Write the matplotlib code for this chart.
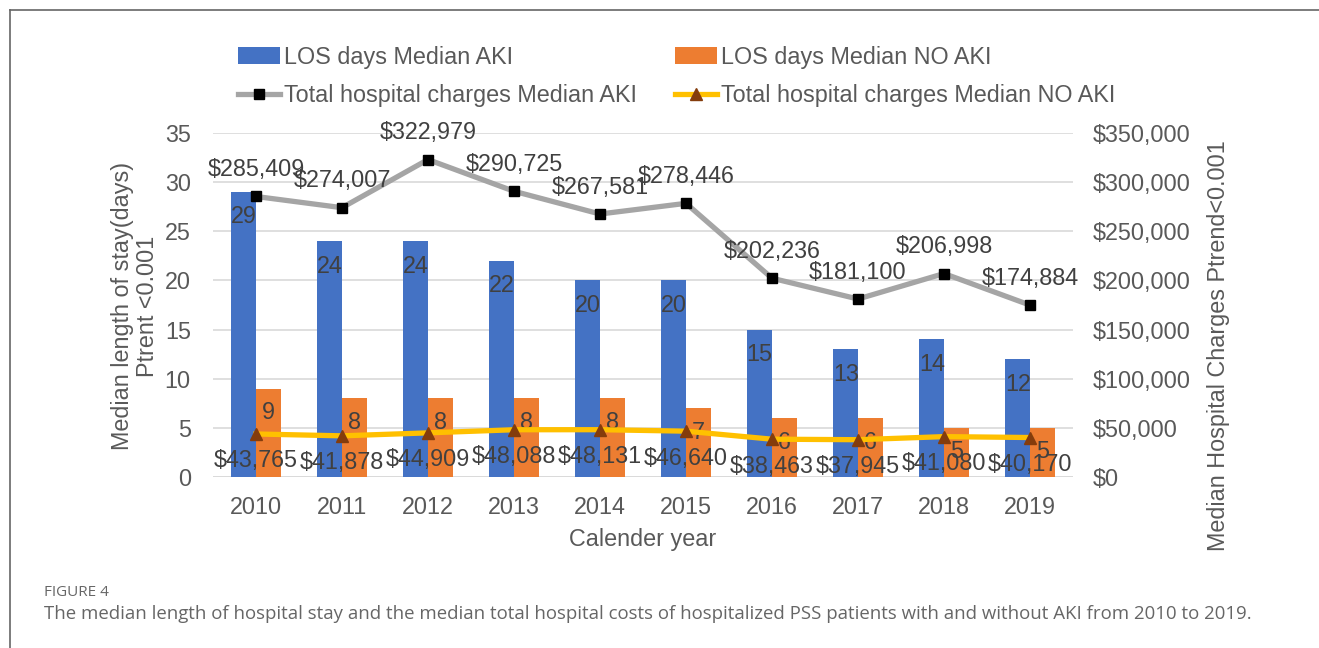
import numpy as np
import matplotlib.pyplot as plt
from matplotlib.lines import Line2D

plt.rcParams['font.family'] = ['Liberation Sans', 'DejaVu Sans']

years = ['2010', '2011', '2012', '2013', '2014', '2015', '2016', '2017', '2018', '2019']
los_aki = [29, 24, 24, 22, 20, 20, 15, 13, 14, 12]
los_no_aki = [9, 8, 8, 8, 8, 7, 6, 6, 5, 5]
charges_aki = [285409, 274007, 322979, 290725, 267581, 278446, 202236, 181100, 206998, 174884]
charges_no_aki = [43765, 41878, 44909, 48088, 48131, 46640, 38463, 37945, 41080, 40170]

TXT = '#595959'
FS = 16.8


def main():
    W, H = 1319, 648
    fig = plt.figure(figsize=(W / 100, H / 100), dpi=100)
    ax = fig.add_axes([213 / W, 1 - 477 / H, 860 / W, 344 / H])
    ax2 = ax.twinx()

    x = np.arange(len(years))
    bw = 0.285
    b1 = ax.bar(x - bw / 2, los_aki, bw, color='#4472C4', label='LOS days Median AKI', zorder=2)
    b2 = ax.bar(x + bw / 2, los_no_aki, bw, color='#ED7D31', label='LOS days Median NO AKI', zorder=2)

    l1, = ax2.plot(x, charges_aki, color='#A5A5A5', lw=3.8, marker='s', ms=7,
                   mfc='black', mec='black', label='Total hospital charges Median AKI', zorder=3)
    l2, = ax2.plot(x, charges_no_aki, color='#FFC000', lw=3.8, marker='^', ms=8,
                   mfc='#843C0C', mec='#843C0C', label='Total hospital charges Median NO AKI', zorder=3)

    ax.set_xlim(-0.5, len(years) - 0.5)
    ax.set_ylim(0, 35)
    ax2.set_ylim(0, 350000)
    ax.set_yticks(range(0, 36, 5))
    ax2.set_yticks(range(0, 350001, 50000))
    ax2.set_yticklabels(['$' + format(v, ',') for v in range(0, 350001, 50000)])
    ax.set_xticks(x)
    ax.set_xticklabels(years)

    for a in (ax, ax2):
        for s in a.spines.values():
            s.set_visible(False)
        a.tick_params(length=0, labelsize=FS, colors=TXT)
    ax.tick_params(axis='y', pad=16)
    ax.tick_params(axis='x', pad=14)
    ax2.tick_params(axis='y', pad=14.5)
    ax.grid(axis='y', color='#D9D9D9', lw=1.2, zorder=0)
    ax.set_axisbelow(True)
    ax.axhline(0, color='#D9D9D9', lw=1.2, zorder=1)

    # data labels
    for xi, v in zip(x, los_aki):
        ax.annotate(str(v), (xi - bw / 2, v), xytext=(0, -25), textcoords='offset pixels',
                    ha='center', va='center', fontsize=FS, color='#404040', zorder=5)
    for xi, v in zip(x, los_no_aki):
        ax.annotate(str(v), (xi + bw / 2, v), xytext=(0, -24), textcoords='offset pixels',
                    ha='center', va='center', fontsize=FS, color='#404040', zorder=5)
    for xi, v in zip(x, charges_aki):
        ax2.annotate('$' + format(v, ','), (xi, v), xytext=(0, 27), textcoords='offset pixels',
                     ha='center', va='center', fontsize=FS, color='#404040', zorder=5)
    for xi, v in zip(x, charges_no_aki):
        ax2.annotate('$' + format(v, ','), (xi, v), xytext=(0, -27), textcoords='offset pixels',
                     ha='center', va='center', fontsize=FS, color='#404040', zorder=5)

    ax.set_xlabel('Calender year', fontsize=FS, color=TXT, labelpad=6)
    fig.text(135 / W, 1 - 306 / H, 'Median length of stay(days)\nPtrent <0.001', rotation=90,
             ha='center', va='center', fontsize=FS, color=TXT, multialignment='center',
             linespacing=1.15)
    fig.text(1218 / W, 1 - 346 / H, 'Median Hospital Charges Ptrend<0.001', rotation=90,
             ha='center', va='center', fontsize=FS, color=TXT)

    fig.legend(handles=[b1, l1, b2, l2], ncol=2, loc='upper left',
               bbox_to_anchor=(226 / W, 1 - 34 / H), frameon=False, fontsize=FS,
               labelcolor=TXT, handlelength=1.8, handletextpad=0.2, columnspacing=1.6,
               labelspacing=0.65, borderpad=0)

    # frame and caption
    fig.add_artist(Line2D([10 / W, 10 / W], [0, 1 - 10 / H], color='#666666', lw=1.2))
    fig.add_artist(Line2D([10 / W, 1], [1 - 10 / H, 1 - 10 / H], color='#666666', lw=1.2))
    fig.text(44 / W, 1 - 592 / H, 'FIGURE 4', fontsize=11, color='#666666',
             family='Open Sans', ha='left', va='center')
    fig.text(44 / W, 1 - 614 / H,
             'The median length of hospital stay and the median total hospital costs of '
             'hospitalized PSS patients with and without AKI from 2010 to 2019.',
             fontsize=13.4, color='#666666', family='Open Sans', ha='left', va='center')

    fig.savefig('out.png', dpi=100)


if __name__ == '__main__':
    main()
